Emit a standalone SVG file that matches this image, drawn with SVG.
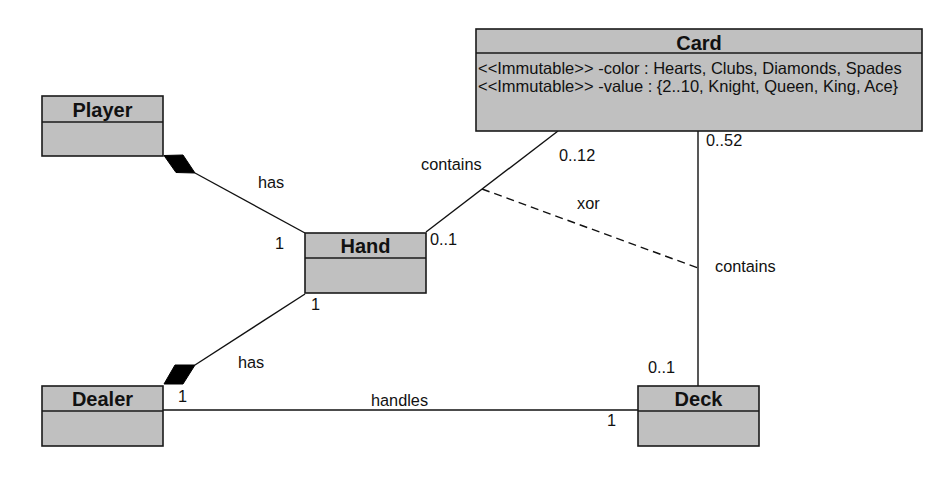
<svg xmlns="http://www.w3.org/2000/svg" width="950" height="498" viewBox="0 0 950 498">
<style>
.box{fill:#c0c0c0;stroke:#1a1a1a;stroke-width:1.6}
.div{stroke:#1a1a1a;stroke-width:1.4}
.t{font-family:"Liberation Sans",Arial,sans-serif;font-size:20px;font-weight:bold;text-anchor:middle;fill:#111}
.a{font-family:"Liberation Sans",Arial,sans-serif;font-size:16.5px;fill:#111}
.l{font-family:"Liberation Sans",Arial,sans-serif;font-size:16.3px;fill:#111}
.ln{stroke:#111;stroke-width:1.4;fill:none}
.dash{stroke:#111;stroke-width:1.4;fill:none;stroke-dasharray:8,5}
.dia{fill:#000;stroke:#000;stroke-width:1}
</style>
<rect width="950" height="498" fill="#fff"/>
<g id="connectors">
<line class="ln" x1="195" y1="173" x2="305" y2="233"/>
<polygon class="dia" points="164,155.5 183,155 195,173 176,172.5"/>
<line class="ln" x1="195" y1="365" x2="305" y2="294"/>
<polygon class="dia" points="164,384 175,365 195,365 183,384"/>
<line class="ln" x1="426" y1="232" x2="558" y2="131"/>
<line class="dash" x1="482" y1="189" x2="698" y2="268"/>
<line class="ln" x1="698" y1="131" x2="698" y2="386"/>
<line class="ln" x1="163" y1="410" x2="638" y2="410"/>
<text class="l" x="258" y="188">has</text>
<text class="l" x="275" y="249">1</text>
<text class="l" x="311" y="310">1</text>
<text class="l" x="430" y="245">0..1</text>
<text class="l" x="421" y="170">contains</text>
<text class="l" x="559" y="161">0..12</text>
<text class="l" x="706" y="146">0..52</text>
<text class="l" x="577" y="209">xor</text>
<text class="l" x="715" y="272">contains</text>
<text class="l" x="648" y="373">0..1</text>
<text class="l" x="607" y="426">1</text>
<text class="l" x="371" y="406">handles</text>
<text class="l" x="178" y="402">1</text>
<text class="l" x="238" y="368">has</text>
</g>
<g id="card">
<rect class="box" x="476" y="29" width="446" height="102"/>
<line class="div" x1="476" y1="53" x2="922" y2="53"/>
<text class="t" x="699" y="50">Card</text>
<text class="a" x="478" y="74">&lt;&lt;Immutable&gt;&gt; -color : Hearts, Clubs, Diamonds, Spades</text>
<text class="a" x="478" y="92">&lt;&lt;Immutable&gt;&gt; -value : {2..10, Knight, Queen, King, Ace}</text>
</g>
<g id="player">
<rect class="box" x="42" y="96" width="121" height="60"/>
<line class="div" x1="42" y1="122" x2="163" y2="122"/>
<text class="t" x="102.5" y="117">Player</text>
</g>
<g id="hand">
<rect class="box" x="305" y="233" width="121" height="60"/>
<line class="div" x1="305" y1="258" x2="426" y2="258"/>
<text class="t" x="365.5" y="253">Hand</text>
</g>
<g id="dealer">
<rect class="box" x="42" y="386" width="121" height="60"/>
<line class="div" x1="42" y1="411" x2="163" y2="411"/>
<text class="t" x="102.5" y="406">Dealer</text>
</g>
<g id="deck">
<rect class="box" x="638" y="386" width="121" height="60"/>
<line class="div" x1="638" y1="411" x2="759" y2="411"/>
<text class="t" x="698.5" y="406">Deck</text>
</g>
</svg>
